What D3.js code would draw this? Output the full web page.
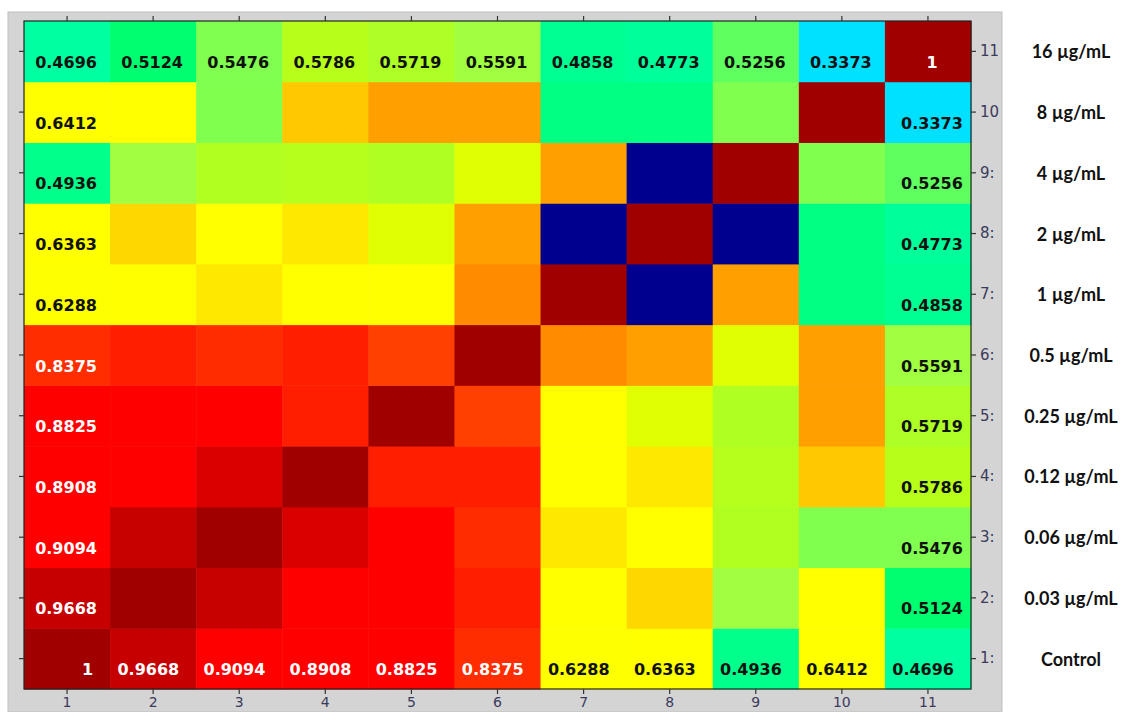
<!DOCTYPE html>
<html>
<head>
<meta charset="utf-8">
<script src="https://cdn.jsdelivr.net/npm/d3@7"></script>
<style>
  html, body { margin: 0; padding: 0; background: #ffffff; }
  svg { display: block; }
</style>
</head>
<body>
<svg id="chart" width="1127" height="712"></svg>
<script>
// ---------- DATA ----------
// Row / column indices (1 = Control ... 11 = 16 µg/mL)
const indices = [1, 2, 3, 4, 5, 6, 7, 8, 9, 10, 11];
const rightTickLabels = ["1:", "2:", "3:", "4:", "5:", "6:", "7:", "8:", "9:", "10", "11"];
const bottomTickLabels = ["1", "2", "3", "4", "5", "6", "7", "8", "9", "10", "11"];
const concentrations = ["Control", "0.03 µg/mL", "0.06 µg/mL", "0.12 µg/mL", "0.25 µg/mL",
  "0.5 µg/mL", "1 µg/mL", "2 µg/mL", "4 µg/mL", "8 µg/mL", "16 µg/mL"];

// Correlation matrix, row i = index i (Control first); symmetric
const row1  = [1, 0.9668, 0.9094, 0.8908, 0.8825, 0.8375, 0.6288, 0.6363, 0.4936, 0.6412, 0.4696];
const row2  = [0.9668, 1, 0.965, 0.90, 0.89, 0.86, 0.635, 0.68, 0.559, 0.64, 0.5124];
const row3  = [0.9094, 0.965, 1, 0.93, 0.90, 0.84, 0.66, 0.635, 0.575, 0.548, 0.5476];
const row4  = [0.8908, 0.90, 0.93, 1, 0.86, 0.86, 0.635, 0.66, 0.578, 0.70, 0.5786];
const row5  = [0.8825, 0.89, 0.90, 0.86, 1, 0.80, 0.632, 0.60, 0.574, 0.73, 0.5719];
const row6  = [0.8375, 0.86, 0.84, 0.86, 0.80, 1, 0.76, 0.73, 0.60, 0.73, 0.5591];
const row7  = [0.6288, 0.635, 0.66, 0.635, 0.632, 0.76, 1, 0.20, 0.73, 0.50, 0.4858];
const row8  = [0.6363, 0.68, 0.635, 0.66, 0.60, 0.73, 0.20, 1, 0.20, 0.50, 0.4773];
const row9  = [0.4936, 0.559, 0.575, 0.578, 0.574, 0.60, 0.73, 0.20, 1, 0.548, 0.5256];
const row10 = [0.6412, 0.64, 0.548, 0.70, 0.73, 0.73, 0.50, 0.50, 0.548, 1, 0.3373];
const row11 = [0.4696, 0.5124, 0.5476, 0.5786, 0.5719, 0.5591, 0.4858, 0.4773, 0.5256, 0.3373, 1];
const matrix = [row1, row2, row3, row4, row5, row6, row7, row8, row9, row10, row11];

// Colour map stops (value -> colour)
const colorStops = [0.20, 0.3373, 0.47, 0.49, 0.5124, 0.5256, 0.5476, 0.5591, 0.575, 0.60, 0.63, 0.645,
  0.66, 0.68, 0.70, 0.73, 0.76, 0.80, 0.84, 0.86, 0.88, 0.915, 0.93, 0.9668, 1.0];
const colorRange = ["#00008f", "#00e0ff", "#00ffa0", "#00ff90", "#00ff70", "#60ff60", "#80ff50", "#a0ff40",
  "#b0ff20", "#e0ff00", "#ffff00", "#ffff00", "#ffe800", "#ffd700", "#ffc800", "#ffa000", "#ff8c00",
  "#ff4000", "#ff2c00", "#ff1e00", "#ff0000", "#ff0000", "#da0000", "#c60000", "#a00000"];

// ---------- LAYOUT ----------
const frame = { x0: 8, y0: 12, x1: 1002, y1: 712 };
const plot = { left: 24, top: 21, right: 971, bottom: 689 };

const svg = d3.select("#chart");

const x = d3.scaleBand().domain(indices).range([plot.left, plot.right]).padding(0);
const y = d3.scaleBand().domain(indices.slice().reverse()).range([plot.top, plot.bottom]).padding(0);
const color = d3.scaleLinear().domain(colorStops).range(colorRange).clamp(true);

// grey frame
svg.append("rect")
  .attr("x", frame.x0).attr("y", frame.y0)
  .attr("width", frame.x1 - frame.x0).attr("height", frame.y1 - frame.y0)
  .attr("fill", "#d4d4d4").attr("stroke", "#c0c0c0").attr("stroke-width", 1);

// cells
const cells = [];
indices.forEach((r, i) => indices.forEach((c, j) => cells.push({ r, c, v: matrix[i][j] })));

svg.append("g").selectAll("rect").data(cells).join("rect")
  .attr("x", d => x(d.c)).attr("y", d => y(d.r))
  .attr("width", x.bandwidth() + 0.5).attr("height", y.bandwidth() + 0.5)
  .attr("fill", d => color(d.v));

// plot border
svg.append("rect")
  .attr("x", plot.left).attr("y", plot.top)
  .attr("width", plot.right - plot.left).attr("height", plot.bottom - plot.top)
  .attr("fill", "none").attr("stroke", "#222").attr("stroke-width", 1.2);

// axes
const tickColor = "#3b3b5c";
const axisFont = "'DejaVu Sans', sans-serif";

const gBottom = svg.append("g").attr("transform", `translate(0,${plot.bottom})`)
  .call(d3.axisBottom(x).tickSize(5).tickPadding(3).tickFormat((d, i) => bottomTickLabels[i]));
const gTop = svg.append("g").attr("transform", `translate(0,${plot.top})`)
  .call(d3.axisTop(x).tickSize(5).tickFormat(""));
const gLeft = svg.append("g").attr("transform", `translate(${plot.left},0)`)
  .call(d3.axisLeft(y).tickSize(5).tickFormat(""));
const gRight = svg.append("g").attr("transform", `translate(${plot.right},0)`)
  .call(d3.axisRight(y).tickSize(5).tickPadding(4).tickFormat(d => rightTickLabels[d - 1]));

[gBottom, gTop, gLeft, gRight].forEach(g => {
  g.attr("font-size", null).attr("font-family", null);
  g.select(".domain").remove();
  g.selectAll(".tick line").attr("stroke", "#333").attr("stroke-width", 1.2);
  g.selectAll(".tick text").attr("fill", tickColor)
    .style("font-family", axisFont).style("font-size", "15px");
});
gBottom.selectAll(".tick text").style("font-size", "14px");

// concentration labels on the right
svg.append("g").selectAll("text").data(indices).join("text")
  .attr("x", 1071)
  .attr("y", d => y(d) + y.bandwidth() / 2)
  .attr("text-anchor", "middle")
  .attr("dominant-baseline", "central")
  .attr("fill", "#111")
  .style("font-family", "Lato, 'Open Sans', sans-serif")
  .style("font-size", "18px")
  .style("font-weight", "bold")
  .text(d => concentrations[d - 1]);

// value labels on perimeter cells (row Control, row 16 µg/mL, first and last columns)
const labelled = cells.filter(d => d.r === 1 || d.r === 11 || d.c === 1 || d.c === 11);
svg.append("g").selectAll("text").data(labelled).join("text")
  .attr("x", d => {
    if (d.r === 1) return x(d.c) + x.bandwidth() - 17;
    if (d.c === 11) return x(d.c) + x.bandwidth() / 2 + 4;
    return x(d.c) + x.bandwidth() / 2 - 1;
  })
  .attr("y", d => y(d.r) + y.bandwidth() / 2 + 11)
  .attr("text-anchor", d => d.r === 1 ? "end" : "middle")
  .attr("dominant-baseline", "central")
  .attr("fill", d => d.v > 0.8 ? "#ffffff" : "#111111")
  .style("font-family", "'DejaVu Sans', Verdana, sans-serif")
  .style("font-weight", "bold")
  .style("font-size", "16px")
  .text(d => d3.format("")(d.v));
</script>
</body>
</html>
